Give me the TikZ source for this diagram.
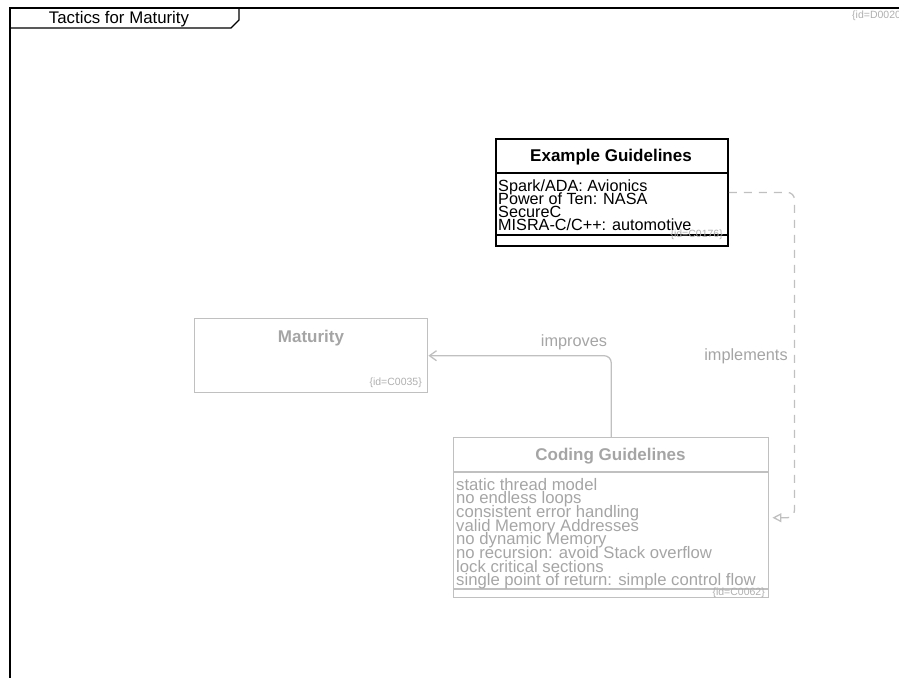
\documentclass[tikz,border=0pt]{standalone}
\usepackage{fontspec}
\setmainfont{Liberation Sans}
\usetikzlibrary{arrows.meta}
\definecolor{linegray}{RGB}{192,192,192}
\definecolor{textgray}{RGB}{165,165,165}
\definecolor{idgray}{RGB}{175,175,175}
\begin{document}
\begin{tikzpicture}[x=1pt,y=-1pt,
  frameline/.style={draw=black,line width=1.3pt},
  classbox/.style={draw=black,line width=1.8pt,inner sep=0pt,anchor=north west},
  fadedbox/.style={draw=linegray,line width=1.4pt,inner sep=0pt,anchor=north west},
  titletext/.style={font=\fontsize{17}{17}\selectfont\bfseries,anchor=base,inner sep=0pt},
  itemtext/.style={font=\fontsize{16.2}{16.2}\selectfont,anchor=base west,inner sep=0pt},
  faditem/.style={font=\fontsize{16.7}{16.7}\selectfont,text=textgray,anchor=base west,inner sep=0pt},
  idtext/.style={font=\fontsize{10.5}{10.5}\selectfont,text=idgray,anchor=base east,inner sep=0pt},
  edgelabel/.style={font=\fontsize{16.3}{16.3}\selectfont,text=textgray,anchor=base,inner sep=0pt},
  relation/.style={draw=linegray,line width=1.3pt,rounded corners=7pt}]

\useasboundingbox (0,0) rectangle (899,677);

% diagram frame with its name tab
\draw[frameline] (10,690) -- (10,8) -- (910,8);
\draw[frameline] (10,28) -- (231,28) -- (239,20) -- (239,8);
\node[font=\fontsize{16.8}{16.8}\selectfont,anchor=base,inner sep=0pt] (diagname) at (119,24) {Tactics for Maturity};
\node[idtext,anchor=base west] (diagid) at (852,19) {\{id=D0020\}};

% Example Guidelines class
\node[classbox,minimum width=232pt,minimum height=107pt] (eg) at (495,138) {};
\draw[black,line width=1.5pt] (495,173) -- (727,173);
\draw[black,line width=1.5pt] (495,235) -- (727,235);
\node[titletext] (egtitle) at (611,161) {Example Guidelines};
\node[idtext] (egid) at (723,237) {\{id=C0176\}};
\foreach \t [count=\i from 0] in {Spark/ADA: Avionics,Power of Ten: NASA,SecureC,MISRA-C/C++: automotive}
  \node[itemtext] (egitem\i) at (498,191+13.2*\i) {\t};

% Maturity class
\node[fadedbox,minimum width=233pt,minimum height=74pt] (mat) at (194,318) {};
\node[titletext,text=textgray] (mattitle) at (311,342) {Maturity};
\node[idtext] (matid) at (422,385) {\{id=C0035\}};

% Coding Guidelines class
\node[fadedbox,minimum width=315pt,minimum height=160pt] (cg) at (453,437) {};
\draw[linegray,line width=1.4pt] (453,472) -- (768,472);
\draw[linegray,line width=1.4pt] (453,589) -- (768,589);
\node[titletext,text=textgray] (cgtitle) at (610.5,460) {Coding Guidelines};
\node[idtext] (cgid) at (765,595) {\{id=C0062\}};
\foreach \t [count=\i from 0] in {static thread model,no endless loops,consistent error handling,valid Memory Addresses,no dynamic Memory,no recursion: avoid Stack overflow,lock critical sections,single point of return: simple control flow}
  \node[faditem] (cgitem\i) at (456,490+13.7*\i) {\t};

% relations
\draw[relation,-{Straight Barb[length=7pt,width=10pt]}] (cg.north) |- (mat.east);
\node[edgelabel] (improves) at (574,346) {improves};

\draw[relation,dash pattern=on 8pt off 7pt,shorten >=3pt,-{Triangle[open,length=9pt,width=9pt]}]
  (eg.east) -| ([xshift=25pt]cg.east) -- (cg.east);
\node[edgelabel] (implements) at (746,360) {implements};
\end{tikzpicture}
\end{document}
